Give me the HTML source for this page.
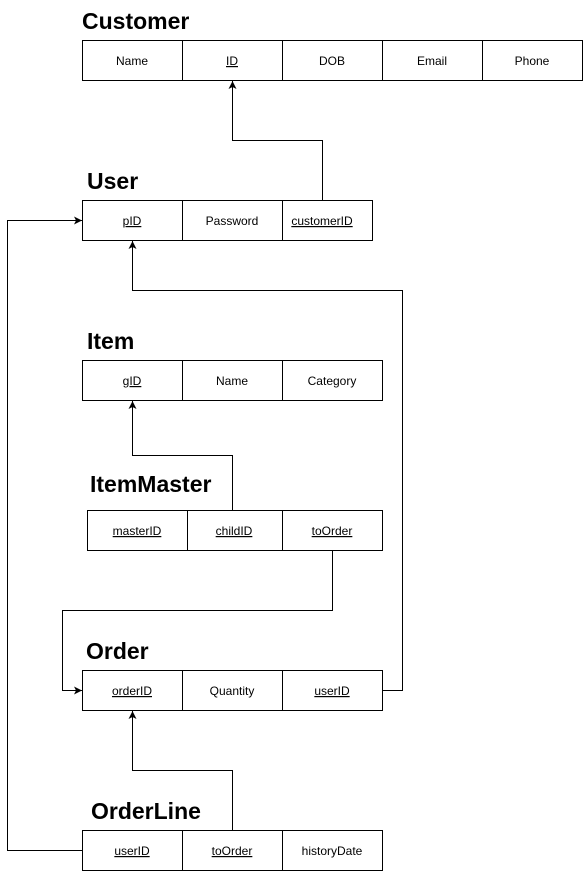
<!DOCTYPE html>
<html><head><meta charset="utf-8"><style>
html,body{margin:0;padding:0;background:#fff;}
svg{display:block;}
text{font-family:"Liberation Sans",Arial,sans-serif;}
.t{font-size:23px;font-weight:bold;fill:#000;}
.c{font-size:12px;fill:#000;text-anchor:middle;}
.u{text-decoration:underline;}
rect{fill:#fff;stroke:#000;stroke-width:1;}
.l{fill:none;stroke:#000;stroke-width:1;}
</style></head><body>
<svg width="583" height="871" viewBox="0 0 583 871">
<defs><marker id="a" markerWidth="10" markerHeight="10" refX="9" refY="5" orient="auto" markerUnits="userSpaceOnUse"><path d="M1,1 L9,5 L1,9 L3,5 Z" fill="#000"/></marker></defs>

<text class="t" x="82" y="29">Customer</text>
<rect x="82.5" y="40.5" width="100" height="40"/><rect x="182.5" y="40.5" width="100" height="40"/><rect x="282.5" y="40.5" width="100" height="40"/><rect x="382.5" y="40.5" width="100" height="40"/><rect x="482.5" y="40.5" width="100" height="40"/>
<text class="c" x="132" y="65">Name</text><text class="c u" x="232" y="65">ID</text><text class="c" x="332" y="65">DOB</text><text class="c" x="432" y="65">Email</text><text class="c" x="532" y="65">Phone</text>

<text class="t" x="87" y="189">User</text>
<rect x="82.5" y="200.5" width="100" height="40"/><rect x="182.5" y="200.5" width="100" height="40"/><rect x="282.5" y="200.5" width="90" height="40"/>
<text class="c u" x="132" y="225">pID</text><text class="c" x="232" y="225">Password</text><text class="c u" x="322" y="225">customerID</text>

<text class="t" x="87" y="349">Item</text>
<rect x="82.5" y="360.5" width="100" height="40"/><rect x="182.5" y="360.5" width="100" height="40"/><rect x="282.5" y="360.5" width="100" height="40"/>
<text class="c u" x="132" y="385">gID</text><text class="c" x="232" y="385">Name</text><text class="c" x="332" y="385">Category</text>

<text class="t" x="90" y="492">ItemMaster</text>
<rect x="87.5" y="510.5" width="100" height="40"/><rect x="187.5" y="510.5" width="95" height="40"/><rect x="282.5" y="510.5" width="100" height="40"/>
<text class="c u" x="137" y="535">masterID</text><text class="c u" x="234" y="535">childID</text><text class="c u" x="332" y="535">toOrder</text>

<text class="t" x="86" y="659">Order</text>
<rect x="82.5" y="670.5" width="100" height="40"/><rect x="182.5" y="670.5" width="100" height="40"/><rect x="282.5" y="670.5" width="100" height="40"/>
<text class="c u" x="132" y="695">orderID</text><text class="c" x="232" y="695">Quantity</text><text class="c u" x="332" y="695">userID</text>

<text class="t" x="91" y="819">OrderLine</text>
<rect x="82.5" y="830.5" width="100" height="40"/><rect x="182.5" y="830.5" width="100" height="40"/><rect x="282.5" y="830.5" width="100" height="40"/>
<text class="c u" x="132" y="855">userID</text><text class="c u" x="232" y="855">toOrder</text><text class="c" x="332" y="855">historyDate</text>

<path class="l" d="M322.5,200 V140.5 H232.5 V81" marker-end="url(#a)"/>
<path class="l" d="M382,690.5 H402.5 V290.5 H132.5 V241" marker-end="url(#a)"/>
<path class="l" d="M232.5,510 V455.5 H132.5 V401" marker-end="url(#a)"/>
<path class="l" d="M332.5,550 V610.5 H62.5 V690.5 H82" marker-end="url(#a)"/>
<path class="l" d="M232.5,830 V770.5 H132.5 V711" marker-end="url(#a)"/>
<path class="l" d="M82,850.5 H7.5 V220.5 H82" marker-end="url(#a)"/>
</svg>
</body></html>
